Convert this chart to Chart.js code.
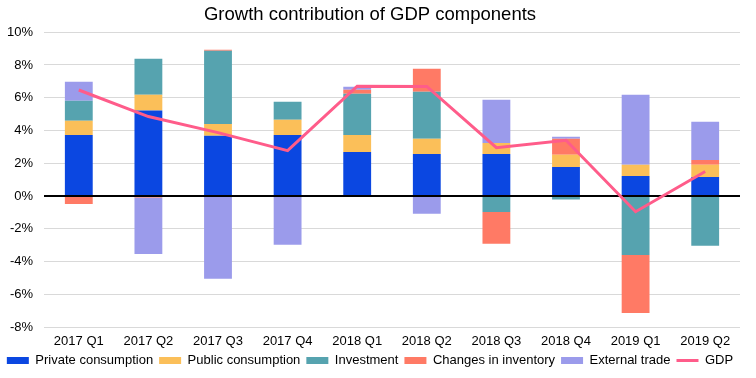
<!DOCTYPE html>
<html>
<head>
<meta charset="utf-8">
<script src="https://cdn.jsdelivr.net/npm/chart.js@4/dist/chart.umd.min.js"></script>
<style>
  html, body { margin: 0; padding: 0; background: #fff; }
  #wrap { width: 756px; height: 378px; }
</style>
</head>
<body>
<div id="wrap"><canvas id="gdpChart"></canvas></div>
<script>
// quarter labels
const quarters = ['2017 Q1', '2017 Q2', '2017 Q3', '2017 Q4', '2018 Q1', '2018 Q2', '2018 Q3', '2018 Q4', '2019 Q1', '2019 Q2'];

// contributions, percentage points
const privateConsumption = [3.73, 5.22, 3.67, 3.73, 2.69, 2.57, 2.57, 1.77, 1.22, 1.16];
const publicConsumption  = [0.86, 0.96, 0.73, 0.92, 1.04, 0.92, 0.67, 0.74, 0.68, 0.74];
const investment         = [1.22, 2.20, 4.47, 1.10, 2.51, 2.87, -0.98, -0.22, -3.61, -3.04];
const inventoryChanges   = [-0.49, -0.10, 0.06, 0, 0.24, 1.41, -1.94, 0.98, -3.53, 0.30];
const externalTrade      = [1.16, -3.45, -5.06, -2.98, 0.19, -1.08, 2.63, 0.12, 4.28, 2.33];
const gdpGrowth          = [6.47, 4.85, 3.87, 2.77, 6.70, 6.69, 2.95, 3.40, -0.96, 1.49];

// y axis ticks
const yTicks = [-8, -6, -4, -2, 0, 2, 4, 6, 8, 10];

const FONT = "'Liberation Sans', Arial, sans-serif";
Chart.defaults.font.family = FONT;
Chart.defaults.color = '#222';

function barSet(label, data, color) {
    return {
        type: 'bar',
        label: label,
        data: data,
        backgroundColor: color,
        borderWidth: 0,
        stack: 'parts',
        order: 1,
        categoryPercentage: 1,
        barPercentage: 0.4
    };
}

// black zero line, drawn over the bars but under the GDP line
const zeroLine = {
    id: 'zeroLine',
    beforeDatasetDraw(chart, args) {
        if (args.index !== 5) return;
        const y = chart.scales.y.getPixelForValue(0);
        const { left, right } = chart.chartArea;
        const ctx = chart.ctx;
        ctx.save();
        ctx.strokeStyle = '#000';
        ctx.lineWidth = 2;
        ctx.beginPath();
        ctx.moveTo(left, y);
        ctx.lineTo(right, y);
        ctx.stroke();
        ctx.restore();
    }
};

new Chart(document.getElementById('gdpChart'), {
    data: {
        labels: quarters,
        datasets: [
            barSet('Private consumption', privateConsumption, '#0B47E1'),
            barSet('Public consumption', publicConsumption, '#FBBF59'),
            barSet('Investment', investment, '#56A3AF'),
            barSet('Changes in inventory', inventoryChanges, '#FF7A65'),
            barSet('External trade', externalTrade, '#9B9BEB'),
            {
                type: 'line',
                label: 'GDP',
                data: gdpGrowth,
                borderColor: '#FF5C8A',
                backgroundColor: '#FF5C8A',
                borderWidth: 3,
                pointRadius: 0,
                tension: 0,
                stack: 'gdp',
                order: 0
            }
        ]
    },
    options: {
        responsive: true,
        maintainAspectRatio: false,
        animation: false,
        layout: { padding: { left: 0, right: 16, top: 0, bottom: 1 } },
        plugins: {
            title: {
                display: true,
                text: 'Growth contribution of GDP components',
                color: '#000',
                font: { size: 18.5, weight: 'normal' },
                padding: { top: 4, bottom: 6 }
            },
            legend: {
                position: 'bottom',
                labels: {
                    font: { size: 13 },
                    color: '#000',
                    usePointStyle: true,
                    pointStyleWidth: 22,
                    boxWidth: 22,
                    boxHeight: 7,
                    padding: 6,
                    sort: (a, b) => a.datasetIndex - b.datasetIndex,
                    generateLabels(chart) {
                        const items = Chart.defaults.plugins.legend.labels.generateLabels(chart);
                        items.forEach(it => {
                            const isLine = it.text === 'GDP';
                            it.pointStyle = isLine ? 'line' : 'rect';
                            it.lineWidth = isLine ? 3 : 0;
                        });
                        return items;
                    }
                }
            },
            tooltip: { enabled: false }
        },
        scales: {
            x: {
                stacked: true,
                grid: { display: false, drawTicks: false },
                border: { display: false },
                ticks: { font: { size: 13 }, color: '#000', padding: 7, maxRotation: 0 },
                afterFit(scale) { scale.height = 21; }
            },
            y: {
                stacked: true,
                min: -8,
                max: 10,
                afterBuildTicks(scale) { scale.ticks = yTicks.map(v => ({ value: v })); },
                grid: { color: '#d9d9d9', lineWidth: 1, drawTicks: false },
                border: { display: false },
                ticks: {
                    font: { size: 13 },
                    color: '#000',
                    padding: 11,
                    callback: v => v + '%'
                },
                afterFit(scale) { scale.width = 44; }
            }
        }
    },
    plugins: [zeroLine]
});
</script>
</body>
</html>
